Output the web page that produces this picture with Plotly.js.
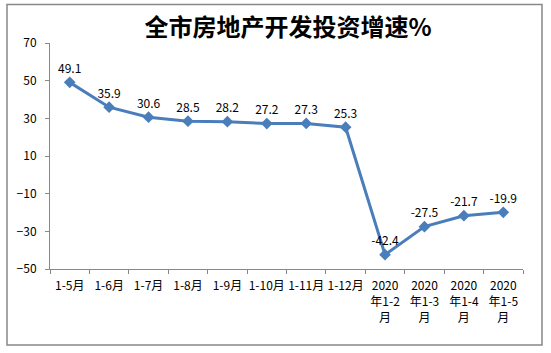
<!DOCTYPE html>
<html>
<head>
<meta charset="utf-8">
<script src="https://cdn.plot.ly/plotly-3.0.1.min.js"></script>
<style>
html,body{margin:0;padding:0;background:#fff;}
#chart{width:551px;height:353px;}
</style>
</head>
<body>
<div id="chart"></div>
<script>
const categories = ["1-5月","1-6月","1-7月","1-8月","1-9月","1-10月","1-11月","1-12月","2020<br>年1-2<br>月","2020<br>年1-3<br>月","2020<br>年1-4<br>月","2020<br>年1-5<br>月"];
const growth = [49.1, 35.9, 30.6, 28.5, 28.2, 27.2, 27.3, 25.3, -42.4, -27.5, -21.7, -19.9];
const yTicks = [-50, -30, -10, 10, 30, 50, 70];
const chartTitle = "全市房地产开发投资增速%";

const fontFam = '"Noto Sans CJK SC", "Noto Sans", sans-serif';

const trace = {
  x: categories,
  y: growth,
  type: 'scatter',
  mode: 'lines+markers+text',
  text: growth.map(v => v.toFixed(1)),
  textposition: 'top center',
  textfont: {family: fontFam, size: 12, color: '#000'},
  line: {color: '#4A7EBB', width: 3},
  marker: {symbol: 'diamond', size: 9, color: '#4A7EBB'},
  cliponaxis: false,
  hoverinfo: 'x+y'
};

const layout = {
  width: 551,
  height: 353,
  margin: {l: 50, r: 28, t: 43, b: 84},
  paper_bgcolor: '#fff',
  plot_bgcolor: '#fff',
  showlegend: false,
  title: {
    text: chartTitle,
    font: {family: fontFam, size: 24, color: '#000', weight: 'bold'},
    x: 0.523, xanchor: 'center',
    y: 0.922, yanchor: 'middle'
  },
  xaxis: {
    type: 'category',
    tickson: 'boundaries',
    ticks: 'outside',
    ticklen: 4,
    tickcolor: '#888',
    showline: true,
    linecolor: '#888',
    linewidth: 1,
    showgrid: false,
    zeroline: false,
    tickfont: {family: fontFam, size: 12, color: '#000'},
    ticklabelstandoff: 6,
    tickangle: 0,
    range: [-0.5, 11.5]
  },
  yaxis: {
    range: [-50, 70],
    tickvals: yTicks,
    ticks: 'outside',
    ticklen: 4,
    tickcolor: '#888',
    showline: true,
    linecolor: '#888',
    linewidth: 1,
    showgrid: false,
    zeroline: false,
    tickfont: {family: fontFam, size: 12, color: '#000'},
    ticklabelstandoff: 6
  },
  shapes: [{
    type: 'rect',
    xref: 'paper', yref: 'paper',
    x0: (7 - 50) / 473, x1: (542 - 50) / 473,
    y0: (269 - 345) / 226, y1: (269 - 4.5) / 226,
    line: {color: '#888', width: 1.5},
    fillcolor: 'rgba(0,0,0,0)'
  }]
};

Plotly.newPlot('chart', [trace], layout, {displayModeBar: false, staticPlot: true});
</script>
</body>
</html>
